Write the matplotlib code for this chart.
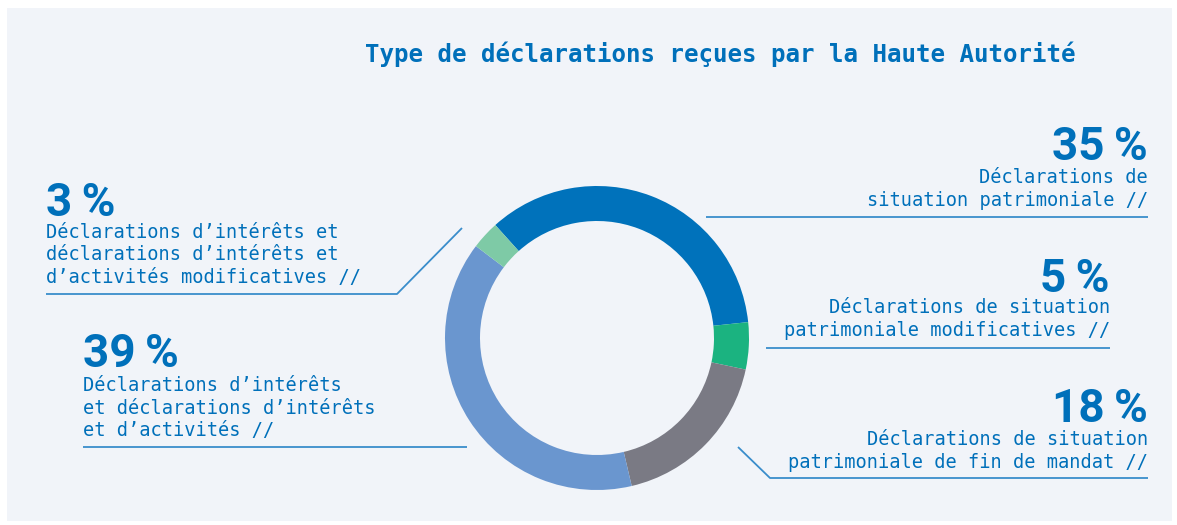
import matplotlib
matplotlib.use("Agg")
import matplotlib.pyplot as plt
from matplotlib.patches import Rectangle

# ---- data ----
title = "Type de déclarations reçues par la Haute Autorité"
shares = [35, 5, 18, 39, 3]
pct_labels = ["35\u2009%", "5\u2009%", "18\u2009%", "39\u2009%", "3\u2009%"]
descriptions = [
    ["Déclarations de", "situation patrimoniale //"],
    ["Déclarations de situation", "patrimoniale modificatives //"],
    ["Déclarations de situation", "patrimoniale de fin de mandat //"],
    ["Déclarations d’intérêts", "et déclarations d’intérêts", "et d’activités //"],
    ["Déclarations d’intérêts et", "déclarations d’intérêts et", "d’activités modificatives //"],
]
colors = ["#0072BB", "#1BB380", "#7A7A84", "#6A96CF", "#7ECAA6"]

W, H = 1177, 525
BG = "#F1F4F9"
BLUE = "#0070BA"
LINE = "#3A8DCB"

fig = plt.figure(figsize=(W / 100, H / 100), dpi=100)
fig.patch.set_facecolor("white")
ax = fig.add_axes([0, 0, 1, 1])
ax.set_xlim(0, W)
ax.set_ylim(0, H)
ax.axis("off")

def Y(yp):
    return H - yp

ax.add_patch(Rectangle((7, Y(521)), 1165, 513, facecolor=BG, edgecolor="none", zorder=0))

# donut
cx, cy, R = 597, 338, 152
ax.pie(shares, colors=colors, startangle=132, counterclock=False,
       radius=R, center=(cx, Y(cy)), frame=True,
       wedgeprops=dict(width=35, linewidth=0))
ax.set_xlim(0, W)
ax.set_ylim(0, H)
ax.set_aspect("equal")
ax.axis("off")

ax.text(720, Y(62), title, ha="center", va="baseline", color=BLUE,
        fontsize=17.4, fontweight="bold", family="DejaVu Sans Mono")

# label layout: (x, ha, pct baseline, first line baseline)
layout = [
    (1148, "right", 160, 183),
    (1110, "right", 292, 313),
    (1148, "right", 422, 445),
    (83, "left", 367, 391),
    (46, "left", 216, 238),
]
leaders = [
    [(706, 217), (1148, 217)],
    [(766, 348), (1110, 348)],
    [(738, 447), (770, 478), (1148, 478)],
    [(83, 447), (467, 447)],
    [(46, 294), (397, 294), (462, 228)],
]

for (x, ha, pb, lb), pct, desc, pts in zip(layout, pct_labels, descriptions, leaders):
    ax.text(x, Y(pb), pct, ha=ha, va="baseline", color=BLUE, fontsize=33,
            fontweight="bold", family=["Roboto", "DejaVu Sans"])
    for i, line in enumerate(desc):
        ax.text(x, Y(lb + 22.5 * i), line, ha=ha, va="baseline", color=BLUE,
                fontsize=13.4, family="DejaVu Sans Mono")
    xs = [p[0] for p in pts]
    ys = [Y(p[1]) for p in pts]
    ax.plot(xs, ys, color=LINE, lw=1.3, solid_capstyle="butt")

fig.savefig("out.png", dpi=100, facecolor=fig.get_facecolor())
